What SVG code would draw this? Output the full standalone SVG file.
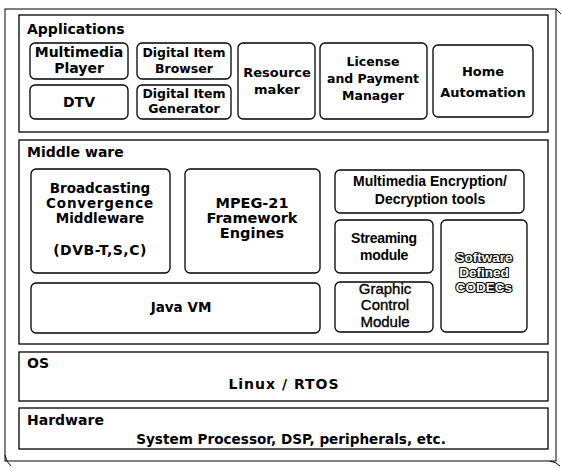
<svg xmlns="http://www.w3.org/2000/svg" width="562" height="468" viewBox="0 0 562 468">
  <style>
    .frame { fill: none; stroke: #000; stroke-width: 1; }
    .layer { fill: #fff; stroke: #000; stroke-width: 1.3; }
    .box { fill: #fff; stroke: #000; stroke-width: 1.3; }
    .lbl { font-family: "DejaVu Sans", sans-serif; font-weight: bold; font-size: 14px; fill: #000; }
    .t { font-family: "DejaVu Sans", sans-serif; font-weight: bold; text-anchor: middle; fill: #000; }
    .a { font-family: "Liberation Sans", Arial, sans-serif; font-weight: bold; text-anchor: middle; fill: #000; }
    .r { font-family: "Liberation Sans", Arial, sans-serif; font-weight: normal; text-anchor: middle; fill: #000; stroke: #000; stroke-width: 0.35; }
    .hollow { font-family: "Liberation Sans", Arial, sans-serif; font-weight: bold; text-anchor: middle; fill: #fff; stroke: #000; stroke-width: 2.2; paint-order: stroke; stroke-linejoin: round; }
  </style>
  <rect width="562" height="468" fill="#fff"/>

  <!-- outer page frame with curled corners -->
  <g id="frame">
    <rect class="frame" x="5" y="9" width="551" height="452"/>
    <path class="frame" d="M556 9 L561 14"/>
    <path class="frame" d="M5 455 Q6 462 11 466"/>
    <path class="frame" d="M550 461 Q556 462 560 466"/>
  </g>

  <!-- Applications layer -->
  <g id="applications">
    <rect class="layer" x="19" y="15" width="529" height="117"/>
    <text class="lbl" x="27" y="34">Applications</text>
  </g>
  <g id="multimedia-player">
    <rect class="box" x="30" y="43" width="98" height="36" rx="5"/>
    <text class="t" font-size="14" x="79" y="57">Multimedia</text>
    <text class="t" font-size="14" x="79" y="73">Player</text>
  </g>
  <g id="dtv">
    <rect class="box" x="30" y="85" width="98" height="34" rx="5"/>
    <text class="t" font-size="14" x="79" y="107">DTV</text>
  </g>
  <g id="digital-item-browser">
    <rect class="box" x="137" y="43" width="94" height="36" rx="5"/>
    <text class="t" font-size="12.5" x="184" y="57">Digital Item</text>
    <text class="t" font-size="12.5" x="184" y="73">Browser</text>
  </g>
  <g id="digital-item-generator">
    <rect class="box" x="137" y="85" width="94" height="34" rx="5"/>
    <text class="t" font-size="12.5" x="184" y="98">Digital Item</text>
    <text class="t" font-size="12.5" x="184" y="113">Generator</text>
  </g>
  <g id="resource-maker">
    <rect class="box" x="238" y="43" width="77" height="76" rx="5"/>
    <text class="t" font-size="13" x="277" y="77">Resource</text>
    <text class="t" font-size="13" x="277" y="94">maker</text>
  </g>
  <g id="license-payment-manager">
    <rect class="box" x="320" y="43" width="107" height="76" rx="5"/>
    <text class="t" font-size="12.5" x="373" y="66">License</text>
    <text class="t" font-size="12.5" x="373" y="83">and Payment</text>
    <text class="t" font-size="12.5" x="373" y="100">Manager</text>
  </g>
  <g id="home-automation">
    <rect class="box" x="433" y="45" width="100" height="72" rx="5"/>
    <text class="t" font-size="13" x="483" y="76">Home</text>
    <text class="t" font-size="13" x="483" y="97">Automation</text>
  </g>

  <!-- Middleware layer -->
  <g id="middleware">
    <rect class="layer" x="19" y="140" width="529" height="204"/>
    <text class="lbl" x="27" y="157">Middle ware</text>
  </g>
  <g id="broadcasting-middleware">
    <rect class="box" x="31" y="169" width="139" height="104" rx="5"/>
    <text class="t" font-size="13.5" x="100" y="193">Broadcasting</text>
    <text class="t" font-size="13.5" x="100" y="208" letter-spacing="0.8">Convergence</text>
    <text class="t" font-size="13.5" x="100" y="223">Middleware</text>
    <text class="t" font-size="14" x="100" y="255" letter-spacing="0.5">(DVB-T,S,C)</text>
  </g>
  <g id="mpeg21-engines">
    <rect class="box" x="185" y="169" width="135" height="104" rx="5"/>
    <text class="t" font-size="14.5" x="252" y="208">MPEG-21</text>
    <text class="t" font-size="14.5" x="252" y="223">Framework</text>
    <text class="t" font-size="14.5" x="252" y="238">Engines</text>
  </g>
  <g id="java-vm">
    <rect class="box" x="31" y="283" width="289" height="50" rx="5"/>
    <text class="t" font-size="13.5" x="181" y="312">Java VM</text>
  </g>
  <g id="encryption-tools">
    <rect class="box" x="335" y="170" width="189" height="43" rx="5"/>
    <text class="a" font-size="14" x="430" y="186">Multimedia Encryption/</text>
    <text class="a" font-size="14" x="430" y="204">Decryption tools</text>
  </g>
  <g id="streaming-module">
    <rect class="box" x="335" y="220" width="98" height="53" rx="5"/>
    <text class="a" font-size="14" x="384" y="243" letter-spacing="-0.3">Streaming</text>
    <text class="a" font-size="14" x="384" y="260" letter-spacing="-0.3">module</text>
  </g>
  <g id="graphic-control-module">
    <rect class="box" x="335" y="282" width="98" height="50" rx="5"/>
    <text class="r" font-size="15" x="385" y="294">Graphic</text>
    <text class="r" font-size="15" x="385" y="310">Control</text>
    <text class="r" font-size="15" x="385" y="327">Module</text>
  </g>
  <g id="software-codecs">
    <rect class="box" x="441" y="220" width="86" height="112" rx="5"/>
    <text class="hollow" font-size="13.5" x="484" y="262">Software</text>
    <text class="hollow" font-size="13.5" x="484" y="277">Defined</text>
    <text class="hollow" font-size="13.5" x="484" y="292">CODECs</text>
  </g>

  <!-- OS layer -->
  <g id="os">
    <rect class="layer" x="19" y="352" width="529" height="49"/>
    <text class="lbl" x="27" y="368">OS</text>
    <text class="t" font-size="14" x="284" y="389" letter-spacing="1">Linux / RTOS</text>
  </g>

  <!-- Hardware layer -->
  <g id="hardware">
    <rect class="layer" x="19" y="408" width="529" height="41"/>
    <text class="lbl" x="27" y="425">Hardware</text>
    <text class="t" font-size="13.6" x="291" y="444">System Processor, DSP, peripherals, etc.</text>
  </g>
</svg>
